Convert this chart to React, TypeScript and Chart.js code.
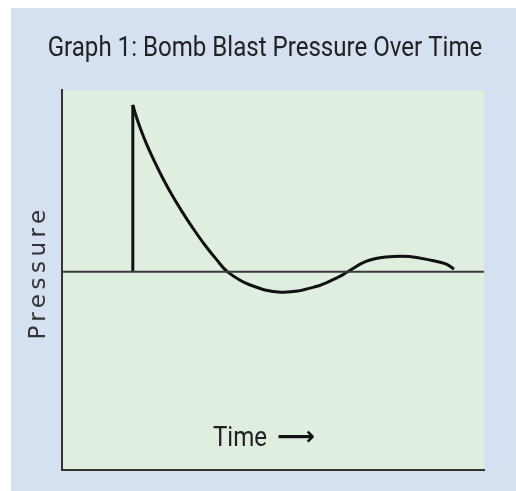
import React, { useEffect, useRef } from "react";
import { Chart, registerables } from "chart.js";

Chart.register(...registerables);

const chartTitle = "Graph 1: Bomb Blast Pressure Over Time";
const yAxisLabel = "Pressure";
const xAxisWord = "Time";
const xAxisArrow = "\u27F6";

const spikeTime = [16.78, 16.78];
const spikePressure = [0, 9.18];

const curveTime = [16.78, 17.73, 18.91, 20.33, 21.99, 23.88, 26.0, 28.37, 30.97, 33.81, 36.64, 39.24, 44.44, 51.94, 60.21, 65.72, 67.68, 72.03, 76.76, 82.27, 87.71, 90.94, 92.91];
const curvePressure = [9.18, 8.45, 7.68, 6.87, 6.03, 5.15, 4.25, 3.34, 2.42, 1.49, 0.67, 0, -0.71, -1.12, -0.81, -0.26, 0, 0.57, 0.81, 0.84, 0.62, 0.44, 0.15];

const baselineTime = [0, 100];
const baselinePressure = [0, 0];

const toPoints = (xs: number[], ys: number[]) => xs.map((x, i) => ({ x, y: ys[i] }));

const labelsPlugin = {
  id: "customLabels",
  beforeDraw(chart: any) {
    const { ctx, chartArea } = chart;
    ctx.save();
    ctx.fillStyle = "#e0eee0";
    ctx.fillRect(chartArea.left, chartArea.top, chartArea.right - chartArea.left, chartArea.bottom - chartArea.top);
    ctx.restore();
  },
  afterDraw(chart: any) {
    const { ctx } = chart;
    // title, horizontally condensed
    ctx.save();
    ctx.fillStyle = "#222";
    ctx.textAlign = "center";
    ctx.textBaseline = "alphabetic";
    ctx.translate(254, 48);
    ctx.scale(0.86, 1);
    ctx.font = "28px Roboto, sans-serif";
    ctx.fillText(chartTitle, 0, 0);
    ctx.restore();

    // x label inside plot
    ctx.save();
    ctx.fillStyle = "#222";
    ctx.textBaseline = "alphabetic";
    ctx.textAlign = "left";
    ctx.translate(202, 438);
    ctx.scale(0.86, 1);
    ctx.font = "28px Roboto, sans-serif";
    ctx.fillText(xAxisWord, 0, 0);
    ctx.restore();

    ctx.save();
    ctx.fillStyle = "#111";
    ctx.textBaseline = "alphabetic";
    ctx.textAlign = "left";
    ctx.font = 'bold 26px "DejaVu Sans", sans-serif';
    const w = ctx.measureText(xAxisArrow).width;
    ctx.translate(266, 437);
    ctx.scale(38 / w, 1);
    ctx.fillText(xAxisArrow, 0, 0);
    ctx.restore();

    // y label
    ctx.save();
    ctx.translate(34, 272);
    ctx.rotate(-Math.PI / 2);
    ctx.textAlign = "center";
    ctx.font = '23px "DejaVu Sans", sans-serif';
    (ctx as any).letterSpacing = "4.5px";
    ctx.fillStyle = "#333";
    ctx.fillText(yAxisLabel, 7.5, 0);
    ctx.restore();
  },
};

export default function App() {
  const ref = useRef<HTMLCanvasElement | null>(null);
  useEffect(() => {
    if (!ref.current) return;
    const chart = new Chart(ref.current, {
      type: "line",
      data: {
        datasets: [
          {
            data: toPoints(baselineTime, baselinePressure),
            borderColor: "#3a3a3a",
            borderWidth: 2,
            pointRadius: 0,
            tension: 0,
          },
          {
            data: toPoints(spikeTime, spikePressure),
            borderColor: "#111",
            borderWidth: 3,
            pointRadius: 0,
            tension: 0,
          },
          {
            data: toPoints(curveTime, curvePressure),
            borderColor: "#111",
            borderWidth: 3,
            pointRadius: 0,
            tension: 0.4,
          },
        ],
      },
      options: {
        animation: false,
        responsive: false,
        devicePixelRatio: 1,
        layout: { padding: { left: 51, right: 32, top: 82, bottom: 21 } },
        plugins: { legend: { display: false }, tooltip: { enabled: false }, title: { display: false } },
        scales: {
          x: {
            type: "linear",
            min: 0,
            max: 100,
            grid: { display: false, drawTicks: false },
            ticks: { display: false },
            border: { display: true, color: "#333", width: 2 },
          },
          y: {
            type: "linear",
            min: -10.9,
            max: 10,
            grid: { display: false, drawTicks: false },
            ticks: { display: false },
            border: { display: true, color: "#333", width: 2 },
          },
        },
      },
      plugins: [labelsPlugin],
    });
    return () => chart.destroy();
  }, []);
  return (
    <div style={{ position: "absolute", left: 0, top: 0, width: 516, height: 491, background: "#fff", overflow: "hidden" }}>
      <div style={{ position: "absolute", left: 11, top: 8, width: 505, height: 483, background: "#d5e1f0" }}>
        <canvas ref={ref} width={505} height={483} style={{ display: "block" }} />
      </div>
    </div>
  );
}
